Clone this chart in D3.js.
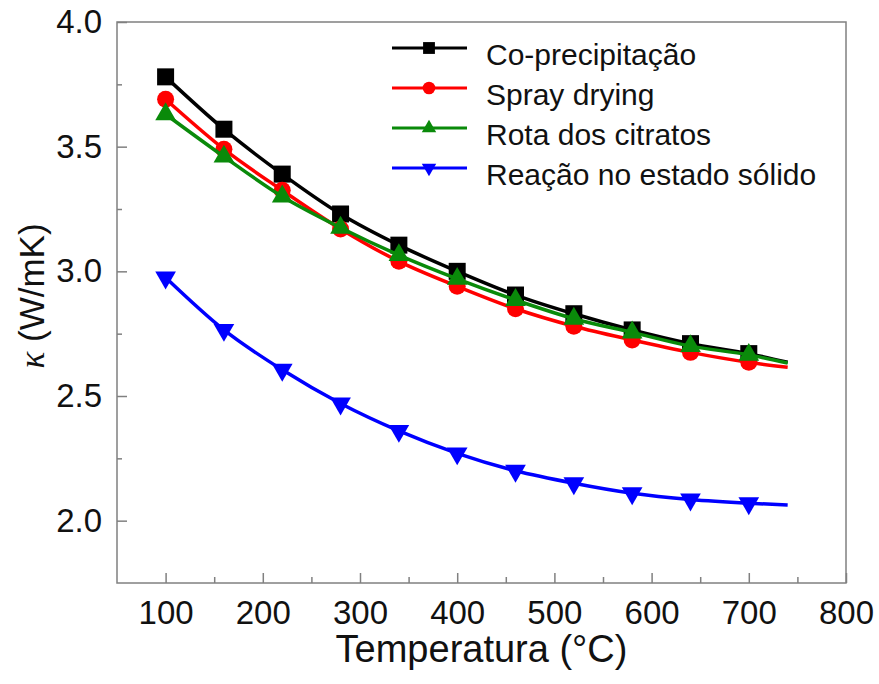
<!DOCTYPE html>
<html>
<head>
<meta charset="utf-8">
<script src="https://cdn.jsdelivr.net/npm/d3@7"></script>
<style>
  body { margin: 0; background: #fff; }
  text { font-family: "Liberation Sans", Arial, sans-serif; fill: #111; }
</style>
</head>
<body>
<div id="chart"></div>
<script>
// temperatures where markers sit, plus where the fitted curves stop
const temps = [100, 160, 220, 280, 340, 400, 460, 520, 580, 640, 700];
const tailTemp = 740;

const coPrecip     = [3.78, 3.57, 3.39, 3.23, 3.105, 3.00, 2.905, 2.83, 2.765, 2.71, 2.67];
const sprayDrying  = [3.69, 3.49, 3.325, 3.17, 3.04, 2.94, 2.85, 2.78, 2.725, 2.675, 2.635];
const rotaCitratos = [3.63, 3.46, 3.30, 3.175, 3.065, 2.97, 2.885, 2.81, 2.755, 2.70, 2.665];
const reacaoSolido = [2.975, 2.765, 2.605, 2.47, 2.36, 2.27, 2.20, 2.15, 2.11, 2.085, 2.07];
const tailValues   = [2.635, 2.615, 2.632, 2.063];

const seriesNames = ["Co-precipitação", "Spray drying", "Rota dos citratos", "Reação no estado sólido"];
const seriesColors = ["#000000", "#ff0000", "#0a8a0a", "#0000ff"];
const seriesShapes = ["square", "circle", "triangle", "down"];

const xMajor = [100, 200, 300, 400, 500, 600, 700, 800];
const xMinor = [150, 250, 350, 450, 550, 650, 750];
const yMajor = [2.0, 2.5, 3.0, 3.5, 4.0];
const yMinor = [2.25, 2.75, 3.25, 3.75];

const W = 879, H = 684;
const margin = {top: 22, right: 33, bottom: 101, left: 117};

const svg = d3.select("#chart")
  .append("svg")
    .attr("width", W)
    .attr("height", H);

svg.append("rect").attr("width", W).attr("height", H).attr("fill", "#fff");

const x = d3.scaleLinear().domain([50, 800]).range([margin.left, W - margin.right]);
const y = d3.scaleLinear().domain([1.75, 4.0]).range([H - margin.bottom, margin.top]);

// axes (ticks point inward)
const xAxis = svg.append("g")
    .attr("transform", `translate(0,${y(1.75)})`)
    .call(d3.axisBottom(x).tickValues(xMajor).tickSize(-10).tickPadding(18));
xAxis.selectAll("text").style("font-size", "33px");

svg.append("g")
    .attr("transform", `translate(0,${y(1.75)})`)
    .call(d3.axisBottom(x).tickValues(xMinor).tickSize(-6).tickFormat(""));

const yAxis = svg.append("g")
    .attr("transform", `translate(${x(50)},0)`)
    .call(d3.axisLeft(y).tickValues(yMajor).tickSize(-10).tickPadding(15).tickFormat(d3.format(".1f")));
yAxis.selectAll("text").style("font-size", "33px");

svg.append("g")
    .attr("transform", `translate(${x(50)},0)`)
    .call(d3.axisLeft(y).tickValues(yMinor).tickSize(-5).tickFormat(""));

svg.selectAll(".domain").remove();
svg.selectAll(".tick line").attr("stroke", "#808080").attr("stroke-width", 1.5);

// frame
svg.append("rect")
    .attr("x", x(50))
    .attr("y", y(4.0))
    .attr("width", x(800) - x(50))
    .attr("height", y(1.75) - y(4.0))
    .attr("fill", "none")
    .attr("stroke", "#808080")
    .attr("stroke-width", 1.5);

// axis titles
svg.append("text")
    .attr("x", (x(50) + x(800)) / 2)
    .attr("y", 662)
    .attr("text-anchor", "middle")
    .style("font-size", "38px")
    .text("Temperatura (°C)");

const yTitle = svg.append("text")
    .attr("transform", `translate(44,296) rotate(-90)`)
    .attr("text-anchor", "middle")
    .style("font-size", "35px");
yTitle.append("tspan")
    .style("font-family", "'Liberation Serif', 'Times New Roman', serif")
    .style("font-style", "italic")
    .text("κ");
yTitle.append("tspan").text(" (W/mK)");

// series
const allValues = [coPrecip, sprayDrying, rotaCitratos, reacaoSolido];
const series = seriesNames.map((name, i) => ({
  name: name,
  color: seriesColors[i],
  shape: seriesShapes[i],
  points: temps.map((t, j) => ({t: t, v: allValues[i][j]})),
  tail: {t: tailTemp, v: tailValues[i]}
}));

const line = d3.line()
    .x(d => x(d.t))
    .y(d => y(d.v))
    .curve(d3.curveMonotoneX);

function symbolPath(shape, big) {
  if (shape === "square") return d3.symbol(d3.symbolSquare, big ? 289 : 140)();
  if (shape === "circle") return d3.symbol(d3.symbolCircle, big ? 227 : 125)();
  return d3.symbol(d3.symbolTriangle, big ? 185 : 90)();
}

series.forEach(s => {
  const g = svg.append("g");
  g.append("path")
      .datum(s.points.concat([s.tail]))
      .attr("d", line)
      .attr("fill", "none")
      .attr("stroke", s.color)
      .attr("stroke-width", 3.5);

  g.selectAll("path.mark")
    .data(s.points)
    .enter()
    .append("path")
      .attr("class", "mark")
      .attr("d", symbolPath(s.shape, true))
      .attr("transform", d => `translate(${x(d.t)},${y(d.v)})` + (s.shape === "down" ? " rotate(180)" : ""))
      .attr("fill", s.color);
});

// legend
const legend = svg.append("g");
series.forEach((s, i) => {
  const ly = 48 + i * 40;
  legend.append("line")
      .attr("x1", 392).attr("x2", 467)
      .attr("y1", ly).attr("y2", ly)
      .attr("stroke", s.color)
      .attr("stroke-width", 3);
  legend.append("path")
      .attr("d", symbolPath(s.shape, false))
      .attr("transform", `translate(429,${ly})` + (s.shape === "down" ? " rotate(180)" : ""))
      .attr("fill", s.color);
  legend.append("text")
      .attr("x", 486)
      .attr("y", ly + 17)
      .style("font-size", "30px")
      .text(s.name);
});
</script>
</body>
</html>
